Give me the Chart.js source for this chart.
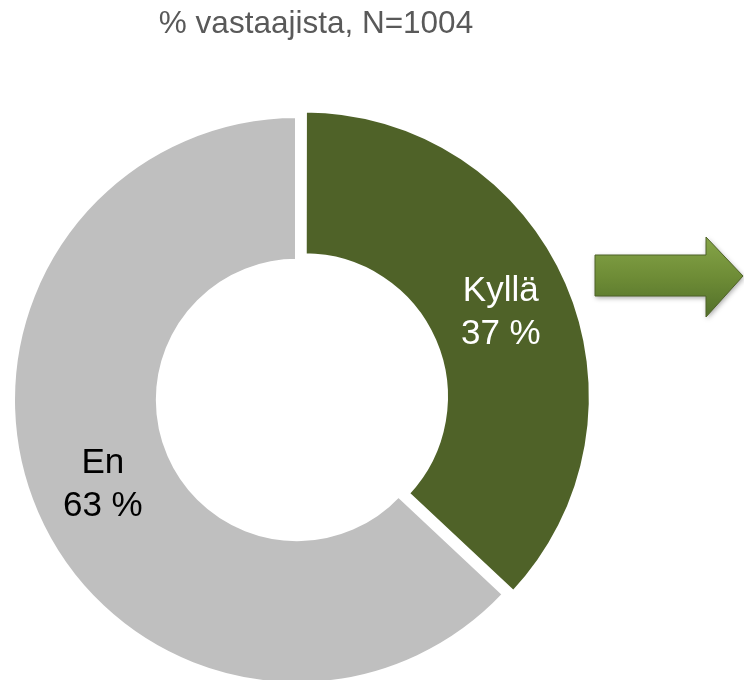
<!DOCTYPE html>
<html>
<head>
<meta charset="utf-8">
<script src="https://cdn.jsdelivr.net/npm/chart.js@4/dist/chart.umd.min.js"></script>
<style>
  body { margin: 0; background: #fff; }
  #wrap { width: 744px; height: 680px; position: relative; overflow: hidden; }
</style>
</head>
<body>
<div id="wrap"><canvas id="chart" width="744" height="680"></canvas></div>
<script>
const categories = ['Kyllä', 'En']
const values = [37, 63]
const sliceColors = ['#4F6228', '#BFBFBF']
const labelColors = ['#FFFFFF', '#000000']
const titleText = '% vastaajista, N=1004'

const FONT = '"Liberation Sans", Arial, sans-serif'

// title, slice labels and the arrow drawn on top of the chart
const extras = {
  id: 'extras',
  afterDraw(chart) {
    const c = chart.ctx
    c.save()

    c.fillStyle = '#595959'
    c.font = '31.5px ' + FONT
    c.textAlign = 'center'
    c.textBaseline = 'alphabetic'
    c.fillText(titleText, 316, 33)

    const meta = chart.getDatasetMeta(0)
    c.font = '35px ' + FONT
    meta.data.forEach((arc, i) => {
      // middle of the ring, plus the same shift chart.js gives an offset arc
      const off = (arc.options.offset || 0) / 4
      const fix = 1 - Math.sin(Math.min(Math.PI, arc.circumference))
      const r = (arc.innerRadius + arc.outerRadius) / 2 + off * (1 + fix)
      const mid = (arc.startAngle + arc.endAngle) / 2
      const x = arc.x + Math.cos(mid) * r
      const y = arc.y + Math.sin(mid) * r
      c.fillStyle = labelColors[i]
      c.fillText(categories[i], x, y - 11)
      c.fillText(values[i] + ' %', x, y + 32)
    })

    // arrow
    c.beginPath()
    c.moveTo(595, 255)
    c.lineTo(706, 255)
    c.lineTo(706, 237)
    c.lineTo(743, 276)
    c.lineTo(706, 317)
    c.lineTo(706, 296)
    c.lineTo(595, 296)
    c.closePath()
    const g = c.createLinearGradient(0, 237, 0, 317)
    g.addColorStop(0, '#86A548')
    g.addColorStop(0.5, '#6E8C36')
    g.addColorStop(1, '#52702A')
    c.shadowColor = 'rgba(0,0,0,0.35)'
    c.shadowBlur = 5
    c.shadowOffsetX = 1
    c.shadowOffsetY = 2
    c.fillStyle = g
    c.fill()
    c.shadowColor = 'transparent'
    c.strokeStyle = '#4F6228'
    c.lineWidth = 1
    c.stroke()

    c.restore()
  }
}

new Chart(document.getElementById('chart'), {
  type: 'doughnut',
  data: {
    labels: categories,
    datasets: [{
      data: values,
      backgroundColor: sliceColors,
      borderColor: '#FFFFFF',
      borderWidth: 4,
      offset: [33, 0],
      hoverOffset: 0
    }]
  },
  options: {
    responsive: false,
    animation: false,
    radius: 284,
    cutout: '49%',
    layout: { padding: { left: 0, right: 150, top: 120, bottom: 0 } },
    plugins: {
      legend: { display: false },
      tooltip: { enabled: false }
    }
  },
  plugins: [extras]
})
</script>
</body>
</html>
